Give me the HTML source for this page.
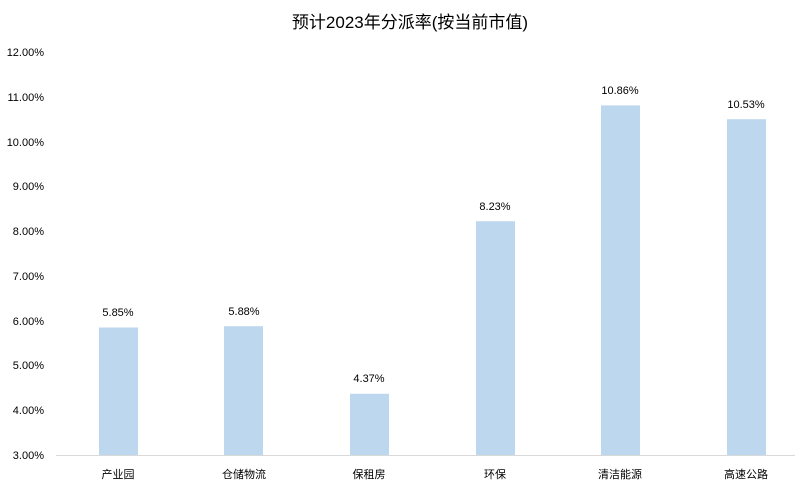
<!DOCTYPE html>
<html><head><meta charset="utf-8"><style>
body{margin:0;background:#fff;}
svg text{font-family:"Liberation Sans","Noto Sans CJK SC",sans-serif;fill:#000;}
</style></head><body>
<svg width="795" height="489" xmlns="http://www.w3.org/2000/svg">
<rect width="795" height="489" fill="#fff"/>
<text x="410" y="28" font-size="17" text-anchor="middle">预计2023年分派率(按当前市值)</text>
<g font-size="11" text-anchor="end">
<text x="44" y="56">12.00%</text>
<text x="44" y="101">11.00%</text>
<text x="44" y="146">10.00%</text>
<text x="44" y="190">9.00%</text>
<text x="44" y="235">8.00%</text>
<text x="44" y="280">7.00%</text>
<text x="44" y="325">6.00%</text>
<text x="44" y="369">5.00%</text>
<text x="44" y="414">4.00%</text>
<text x="44" y="459">3.00%</text>
</g>
<line x1="56" y1="455.5" x2="795" y2="455.5" stroke="#d9d9d9" stroke-width="1"/>
<g fill="#bdd7ee">
<rect x="99" y="327.5" width="39" height="127.5"/>
<rect x="224" y="326.2" width="39" height="128.8"/>
<rect x="350" y="393.8" width="39" height="61.2"/>
<rect x="476" y="221.2" width="39" height="233.8"/>
<rect x="601" y="105.4" width="39" height="349.6"/>
<rect x="727" y="119.2" width="39" height="335.8"/>
</g>
<g font-size="11" text-anchor="middle">
<text x="118" y="316">5.85%</text>
<text x="244" y="315">5.88%</text>
<text x="369" y="382">4.37%</text>
<text x="495" y="210">8.23%</text>
<text x="620" y="94">10.86%</text>
<text x="746" y="108">10.53%</text>
</g>
<g font-size="11" text-anchor="middle">
<text x="118" y="478">产业园</text>
<text x="244" y="478">仓储物流</text>
<text x="369" y="478">保租房</text>
<text x="495" y="478">环保</text>
<text x="620" y="478">清洁能源</text>
<text x="746" y="478">高速公路</text>
</g>
</svg>
</body></html>
